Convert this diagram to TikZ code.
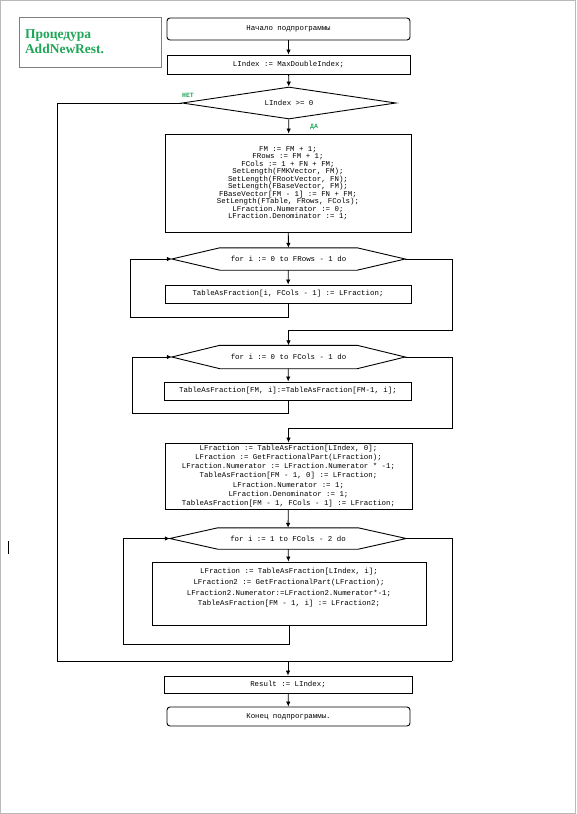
\documentclass[tikz,border=0pt]{standalone}
\usepackage{fontspec}
\setmainfont{Liberation Serif}
\setmonofont{Liberation Mono}
\usetikzlibrary{shapes.geometric,arrows.meta}
\definecolor{titlegreen}{RGB}{30,166,86}
\tikzset{
  code/.style={font=\ttfamily\fontsize{7.4}{7.5}\selectfont, align=center},
  box/.style={draw, line width=0.9pt, inner sep=1pt, code},
  term/.style={box, rounded corners=3pt},
  cond/.style={draw, diamond, line width=0.9pt, inner sep=0pt, code, aspect=6.7},
  forhex/.style={inner sep=0pt, code},
  conn/.style={line width=0.8pt, >={Latex[length=5pt,width=4.5pt]}},
  yesno/.style={text=titlegreen, font=\ttfamily\bfseries\fontsize{6.5}{6.5}\selectfont}
}
% hexagon frame round a loop header node
\newcommand\hexframe[1]{%
  \draw[line width=0.9pt] (#1.west) -- ([xshift=48pt]#1.north west) -- ([xshift=-48pt]#1.north east)
    -- (#1.east) -- ([xshift=-48pt]#1.south east) -- ([xshift=48pt]#1.south west) -- cycle;}
\begin{document}
\begin{tikzpicture}[x=1pt,y=-1pt]
    \useasboundingbox (0,0) rectangle (576,814);
    \draw[gray!55, line width=1pt] (0.5,0.5) rectangle (575.5,813.5);
    \draw[line width=0.8pt] (8,541) -- (8,554);

    % title
    \node[draw=gray, minimum width=142pt, minimum height=50pt, text width=130pt, inner xsep=6pt,
      align=left, text=titlegreen, font=\bfseries\fontsize{13.5}{15}\selectfont] (title) at (90,42)
      {Процедура\\AddNewRest.\\[4pt]};

    % main column
    \node[term, minimum width=243pt, minimum height=22pt] (start) at (288.5,29) {Начало подпрограммы};
    \node[box, minimum width=243pt, minimum height=19pt] (init) at (288.5,64.5) {LIndex := MaxDoubleIndex;};
    \node[cond, minimum width=214pt, minimum height=32pt] (test) at (289,103) {LIndex >= 0};
    \node[yesno] (no) at (188,95) {НЕТ};
    \node[yesno] (yes) at (314,127) {ДА};

    \node[box, minimum width=246pt, minimum height=98pt] (blk1) at (288,183)
      {FM := FM + 1;\\FRows := FM + 1;\\FCols := 1 + FN + FM;\\SetLength(FMKVector, FM);\\
       SetLength(FRootVector, FN);\\SetLength(FBaseVector, FM);\\FBaseVector[FM - 1] := FN + FM;\\
       SetLength(FTable, FRows, FCols);\\LFraction.Numerator := 0;\\LFraction.Denominator := 1;};

    \node[forhex, minimum width=233pt, minimum height=22pt] (for1) at (288.5,259) {for i := 0 to FRows - 1 do};
    \hexframe{for1}
    \node[box, minimum width=246pt, minimum height=18pt] (body1) at (288,294) {TableAsFraction[i, FCols - 1] := LFraction;};

    \node[forhex, minimum width=233pt, minimum height=23pt] (for2) at (288.5,357) {for i := 0 to FCols - 1 do};
    \hexframe{for2}
    \node[box, minimum width=247pt, minimum height=18pt] (body2) at (288,391) {TableAsFraction[FM, i]:=TableAsFraction[FM-1, i];};

    \node[box, minimum width=247pt, minimum height=66pt, font=\ttfamily\fontsize{7.4}{9.2}\selectfont] (blk3) at (288.5,476)
      {LFraction := TableAsFraction[LIndex, 0];\\LFraction := GetFractionalPart(LFraction);\\
       LFraction.Numerator := LFraction.Numerator * -1;\\TableAsFraction[FM - 1, 0] := LFraction;\\
       LFraction.Numerator := 1;\\LFraction.Denominator := 1;\\TableAsFraction[FM - 1, FCols - 1] := LFraction;};

    \node[forhex, minimum width=236pt, minimum height=21pt] (for3) at (288,538.5) {for i := 1 to FCols - 2 do};
    \hexframe{for3}
    \node[box, minimum width=274pt, minimum height=63pt, font=\ttfamily\fontsize{7.4}{10.7}\selectfont] (body3) at (289,593.5)
      {LFraction := TableAsFraction[LIndex, i];\\LFraction2 := GetFractionalPart(LFraction);\\
       LFraction2.Numerator:=LFraction2.Numerator*-1;\\TableAsFraction[FM - 1, i] := LFraction2;\\[2.3pt]};

    \node[box, minimum width=248pt, minimum height=17pt] (res) at (288,684.5) {Result := LIndex;};
    \node[term, minimum width=243pt, minimum height=19pt] (end) at (288.5,716.5) {Конец подпрограммы.};

    % corners of the loops
    \coordinate (l1) at (130,317);
    \coordinate (e1) at (452,330);
    \coordinate (l2) at (132,413);
    \coordinate (e2) at (452,428);
    \coordinate (l3) at (123,644);
    \coordinate (e3) at (452,661);
    \coordinate (n1) at (57,661);

    % connectors
    \draw[conn,->] (start) -- (init);
    \draw[conn,->] (init) -- (test);
    \draw[conn,->] (test) -- (blk1);
    \draw[conn,->] (blk1) -- (for1);
    \draw[conn,->] (for1) -- (body1);
    \draw[conn,->] (body1.south) |- (l1) |- (for1.west);
    \draw[conn,->] (for1.east) -| (e1) -| (for2.north);
    \draw[conn,->] (for2) -- (body2);
    \draw[conn,->] (body2.south) |- (l2) |- (for2.west);
    \draw[conn,->] (for2.east) -| (e2) -| (blk3.north);
    \draw[conn,->] (blk3) -- (for3);
    \draw[conn,->] (for3) -- (body3);
    \draw[conn,->] (body3.south) |- (l3) |- (for3.west);
    \draw[conn] (for3.east) -| (e3);
    \draw[conn] (test.west) -| (n1) -- (e3);
    \draw[conn,->] (res.north |- e3) -- (res);
    \draw[conn,->] (res) -- (end);
\end{tikzpicture}
\end{document}
